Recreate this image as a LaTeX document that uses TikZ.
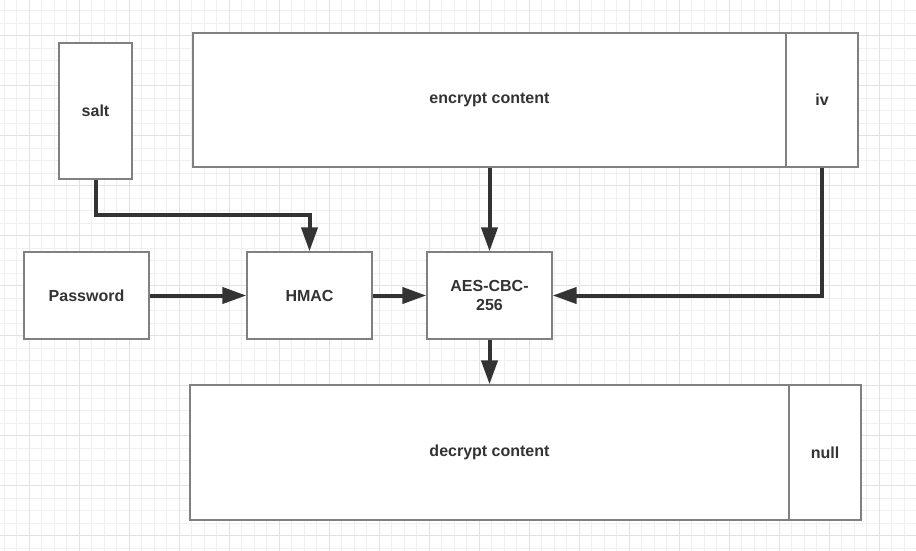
\documentclass[tikz,border=0pt]{standalone}
\usepackage{fontspec}
\setmainfont{Liberation Sans}
\usetikzlibrary{arrows.meta}
\definecolor{minorg}{HTML}{F0F0F0}
\definecolor{majorg}{HTML}{E2E2E2}
\definecolor{boxline}{HTML}{808080}
\definecolor{ink}{HTML}{333333}
\tikzset{
  minorgrid/.style={draw=minorg, line width=1pt},
  majorgrid/.style={draw=majorg, line width=1pt},
  blockbox/.style={draw=boxline, fill=white, line width=1.3pt, inner sep=0pt,
    font=\bfseries\fontsize{16pt}{19pt}\selectfont, text=ink, align=center},
  arr/.style={draw=ink, line width=4pt, -{Triangle[length=24pt,width=16pt]}}
}
\begin{document}
\begin{tikzpicture}[x=1pt,y=-1pt]
\useasboundingbox (0,0) rectangle (916,551);
\fill[white] (0,0) rectangle (916,551);
% grid
\foreach \i in {0,...,73} { \draw[minorgrid] ({4.3+12.5*\i},0) -- ({4.3+12.5*\i},551); }
\foreach \j in {0,...,44} { \draw[minorgrid] (0,{10.7+12.5*\j}) -- (916,{10.7+12.5*\j}); }
\foreach \i in {0,...,17} { \draw[majorgrid] ({29.3+50*\i},0) -- ({29.3+50*\i},551); }
\foreach \j in {0,...,10} { \draw[majorgrid] (0,{35.7+50*\j}) -- (916,{35.7+50*\j}); }
% boxes
\node[blockbox, minimum width=73pt, minimum height=136pt] (salt) at (95.5,111) {salt};
\node[blockbox, minimum width=593pt, minimum height=134pt] (enc) at (489.5,100) {encrypt content};
\node[blockbox, minimum width=72pt, minimum height=134pt] (iv) at (822,100) {iv};
\node[blockbox, minimum width=125pt, minimum height=87pt] (pw) at (86.5,295.5) {Password};
\node[blockbox, minimum width=125pt, minimum height=87pt] (hmac) at (309.5,295.5) {HMAC};
\node[blockbox, minimum width=125pt, minimum height=87pt] (aes) at (489.5,295.5) {AES-CBC-\\256};
\node[blockbox, minimum width=599pt, minimum height=135pt] (dec) at (489.5,452.5) {decrypt content};
\node[blockbox, minimum width=72pt, minimum height=135pt] (null) at (825,452.5) {null};
% connectors
\coordinate (sb) at (309.5,215);
\draw[arr] (salt.south) |- (sb) -- (hmac.north);
\draw[arr] (pw.east) -- (hmac.west);
\draw[arr] (hmac.east) -- (aes.west);
\draw[arr] (enc.south) -- (aes.north);
\draw[arr] (iv.south) |- (aes.east);
\draw[arr] (aes.south) -- (dec.north);
\end{tikzpicture}
\end{document}
